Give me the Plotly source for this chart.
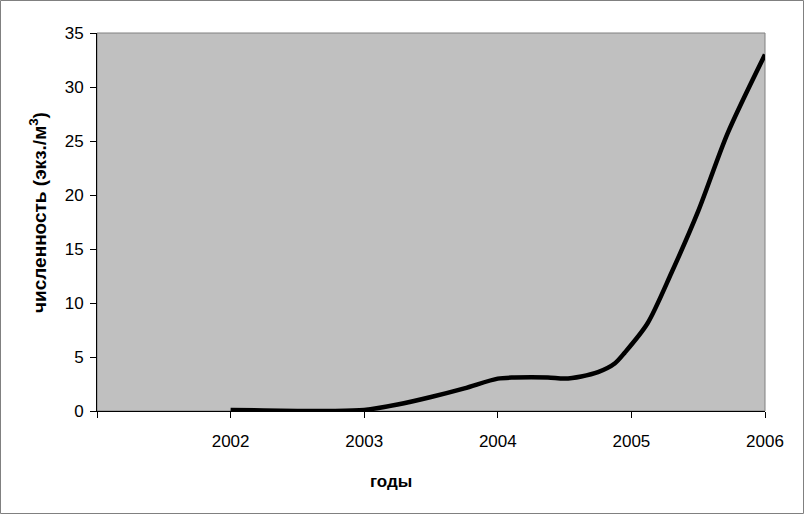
import plotly.graph_objects as go

# годы (дробные — точки сглаженной кривой)
years = [2002.0, 2002.25, 2002.5, 2002.75, 2003.0, 2003.25, 2003.5, 2003.75,
         2004.0, 2004.125, 2004.375, 2004.5, 2004.625, 2004.75, 2004.875,
         2004.95, 2005.12, 2005.3, 2005.5, 2005.72, 2006.0]
# численность, экз./м3
abundance = [0.1, 0.05, 0.0, 0.0, 0.1, 0.6, 1.3, 2.1,
             3.0, 3.1, 3.1, 3.0, 3.2, 3.6, 4.4,
             5.4, 8.1, 12.8, 18.5, 25.7, 33.0]

tick_years = [2002, 2003, 2004, 2005, 2006]
tick_labels = ["2002", "2003", "2004", "2005", "2006"]

L, R, T, B = 97, 765, 33, 411
W, H = 804, 514
pw, ph = R - L, B - T

fig = go.Figure(go.Scatter(
    x=years, y=abundance, mode="lines",
    line=dict(color="black", width=4.5, shape="spline", smoothing=0.8),
    hoverinfo="x+y"))

fig.update_layout(
    width=W, height=H,
    margin=dict(l=L, r=W - R, t=T, b=H - B),
    paper_bgcolor="white", plot_bgcolor="#c0c0c0",
    font=dict(family="Liberation Sans, Arial", size=17, color="black"),
    showlegend=False,
)

fig.update_xaxes(range=[2001, 2006], tickvals=tick_years, ticktext=tick_labels,
                 showgrid=False, zeroline=False, showline=True, linecolor="black",
                 linewidth=1, ticks="outside", ticklen=6, tickcolor="black",
                 ticklabelstandoff=9,
                 minor=dict(tickvals=[2001], ticks="outside", ticklen=6,
                            tickcolor="black", showgrid=False))
fig.update_yaxes(range=[0, 35], dtick=5, showgrid=False, zeroline=False,
                 showline=True, linecolor="black", linewidth=1,
                 ticks="outside", ticklen=6, tickcolor="black",
                 ticklabelstandoff=3)

# рамка области построения и всей диаграммы
fig.add_shape(type="rect", xref="paper", yref="paper", x0=0, x1=1, y0=0, y1=1,
              line=dict(color="#808080", width=1), layer="below")
fig.add_shape(type="rect", xref="paper", yref="paper",
              x0=(0.5 - L) / pw, x1=(W - 0.5 - L) / pw,
              y0=(B - (H - 0.5)) / ph, y1=(B - 0.5) / ph,
              line=dict(color="#808080", width=1))

fig.add_annotation(text="<b>годы</b>", xref="paper", yref="paper",
                   x=(391 - L) / pw, y=(B - 481) / ph, showarrow=False,
                   xanchor="center", yanchor="middle", font=dict(size=17))
fig.add_annotation(text="<b>численность (экз./м<sup>3</sup>)</b>", xref="paper",
                   yref="paper", x=(38 - L) / pw, y=(B - 213) / ph,
                   xanchor="center", yanchor="middle",
                   textangle=-90, showarrow=False, font=dict(size=19))

fig.write_html("out.html", config={"displayModeBar": False},
               post_script="document.body.style.margin='0';")
